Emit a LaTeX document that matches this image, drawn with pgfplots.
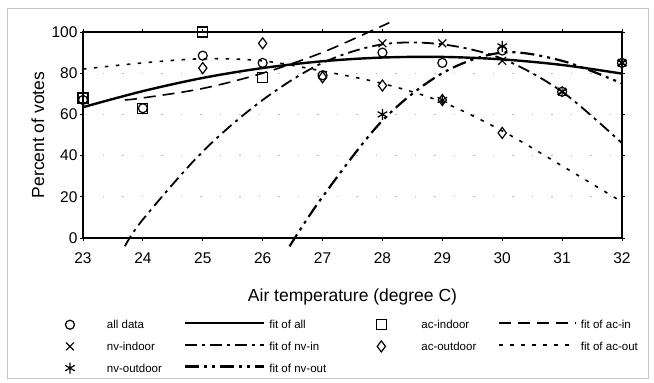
\documentclass[border=0pt]{standalone}
\usepackage{pgfplots}
\pgfplotsset{compat=1.18}
\usepackage{fontspec}
\setmainfont{Liberation Sans}
\pgfplotsset{
  mk/.style={only marks, black, mark options={solid, line width=1.2pt, fill=none},
    legend image code/.code={\path[draw=none,fill=none] (0pt,0pt) -- (#1,0pt); \draw[##1, draw=none] plot coordinates {(4pt,0pt)};}},
  ln/.style={black, no markers, smooth, tension=0.55,
    legend image code/.code={\draw[##1] (0pt,1.5pt) -- (#1,1.5pt);}},
}
\begin{document}
\begin{tikzpicture}
\begin{axis}[
  scale only axis, width=539pt, height=206pt,
  xmin=23, xmax=32, ymin=0, ymax=100,
  xtick={23,24,...,32}, ytick={0,20,...,100},
  clip=false,
  axis line style={line width=1.2pt},
  tick style={black, line width=0.8pt},
  tick align=outside, major tick length=3pt,
  ymajorgrids, grid style={gray!55, line width=1pt, dash pattern=on 1.5pt off 18pt},
  /pgf/number format/assume math mode=true,
  ticklabel style={font=\fontsize{15.5}{17}\selectfont},
  xticklabel style={yshift=-8pt},
  yticklabel style={xshift=1pt},
  xlabel={Air temperature (degree C)}, ylabel={Percent of votes},
  label style={font=\fontsize{17.5}{20}\selectfont},
  xlabel style={at={(axis description cs:0.5,-0.2864)}, anchor=center},
  ylabel style={at={(axis description cs:-0.0835,0.5)}, anchor=center},
  legend columns=4,
  legend cell align=left,
  legend style={draw=none, fill=none, at={(axis description cs:-0.0334,-0.393)}, anchor=north west,
    column sep=4pt, row sep=10.5pt, inner sep=0pt, nodes={inner sep=0pt},
    font=\fontsize{11.5}{13.8}\selectfont},
]
% all data
\addplot[mk=37pt, mark=o, mark size=4.5pt] coordinates {(23,67)(24,63)(25,88.5)(26,85)(27,79)(28,90)(29,85)(30,91)(31,71)(32,85)};
\addlegendentry{\makebox[73pt][l]{\strut all data}}
\addplot[ln=79pt, line width=2.4pt] coordinates {(23,63.5)(24,71.3)(25,77.7)(26,82.5)(27,85.8)(28,87.6)(29,87.9)(30,86.7)(31,84.0)(32,79.8)};
\addlegendentry{\makebox[103pt][l]{\strut fit of all}}
% ac-indoor
\addplot[mk=40pt, mark=square, mark size=5pt] coordinates {(23,68)(24,63)(25,100)(26,78)};
\addlegendentry{\makebox[73pt][l]{\strut ac-indoor}}
\addplot[ln=77pt, line width=1.6pt, dash pattern=on 12pt off 7pt] coordinates {(23.7,67)(24,68)(25,72.6)(26,80)(27,90.1)(28,103)(28.1,104.4)};
\addlegendentry{\strut fit of ac-in}
% nv-indoor
\addplot[mk=37pt, mark=x, mark size=5.5pt] coordinates {(28,94.5)(29,94.5)(30,86)(31,71)(32,85)};
\addlegendentry{\makebox[73pt][l]{\strut nv-indoor}}
\addplot[ln=79pt, line width=1.8pt, dash pattern=on 12pt off 5pt on 3pt off 5pt] coordinates {(23.7,-4)(24,9)(25,42)(26,67)(27,85)(28,94)(29,94)(30,87)(31,71)(32,46)};
\addlegendentry{\makebox[103pt][l]{\strut fit of nv-in}}
% ac-outdoor
\addplot[mk=40pt, mark=diamond, mark size=5.5pt] coordinates {(25,82.5)(26,94.5)(27,78)(28,74)(29,67)(30,51)};
\addlegendentry{\makebox[73pt][l]{\strut ac-outdoor}}
\addplot[ln=77pt, line width=1.6pt, dash pattern=on 3.5pt off 7.5pt] coordinates {(23,82)(24,85)(25,87)(26,86)(27,81)(28,75)(29,66)(30,52)(31,35)(32,17.5)};
\addlegendentry{\strut fit of ac-out}
% nv-outdoor
\addplot[mk=37pt, mark=asterisk, mark size=5.5pt] coordinates {(28,60)(29,67)(30,93)(31,71)(32,85)};
\addlegendentry{\makebox[73pt][l]{\strut nv-outdoor}}
\addplot[ln=79pt, line width=2.2pt, dash pattern=on 14pt off 5pt on 3pt off 5pt on 3pt off 5pt] coordinates {(26.45,-4)(27,20)(28,57)(29,80)(30,90)(31,86)(32,75)};
\addlegendentry{\strut fit of nv-out}
\end{axis}
\draw[gray!45, line width=0.7pt] ([xshift=-76pt,yshift=-140pt]current axis.south west) rectangle ([xshift=26pt,yshift=24pt]current axis.north east);
\useasboundingbox ([xshift=-83pt,yshift=-144pt]current axis.south west) rectangle ([xshift=32pt,yshift=32pt]current axis.north east);
\end{tikzpicture}
\end{document}
